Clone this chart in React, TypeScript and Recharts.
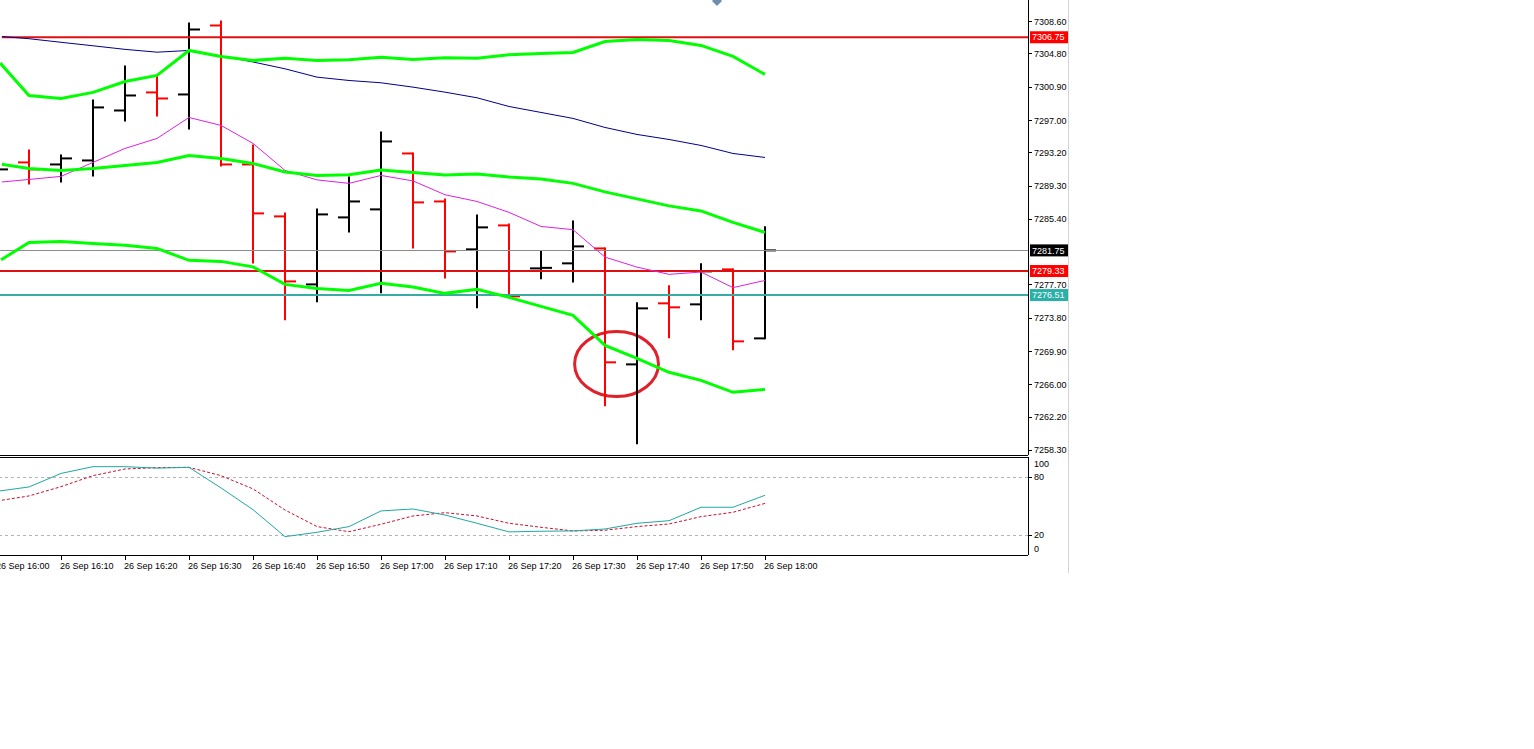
import React from "react";
import {
  ComposedChart,
  Bar,
  Line,
  XAxis,
  YAxis,
  ReferenceLine,
  ReferenceArea,
  ReferenceDot,
} from "recharts";

// 5-minute bars, 26 Sep
const times = [
  "16:00", "16:05", "16:10", "16:15", "16:20", "16:25", "16:30", "16:35", "16:40",
  "16:45", "16:50", "16:55", "17:00", "17:05", "17:10", "17:15", "17:20", "17:25",
  "17:30", "17:35", "17:40", "17:45", "17:50", "17:55", "18:00",
];

const opens = [
  7290.9, 7292.07, 7291.83, 7292.3, 7298.16, 7300.28, 7300.04, 7308.13, 7291.83,
  7285.74, 7277.76, 7285.62, 7286.56, 7293.12, 7287.49, 7281.87, 7284.68, 7279.64,
  7280.23, 7281.98, 7268.38, 7275.54, 7275.42, 7279.52, 7271.43,
];
const highs = [
  7292.3, 7293.47, 7292.89, 7299.34, 7303.32, 7302.15, 7308.37, 7308.6, 7294.06,
  7286.09, 7286.56, 7290.31, 7295.59, 7293.12, 7287.73, 7285.85, 7284.8, 7281.63,
  7285.15, 7281.98, 7275.54, 7277.53, 7280.11, 7279.52, 7284.45,
];
const lows = [
  7290.19, 7289.61, 7289.84, 7290.54, 7296.99, 7297.58, 7296.05, 7291.72, 7280.34,
  7273.66, 7275.77, 7283.98, 7276.83, 7282.1, 7278.58, 7275.07, 7276.24, 7278.47,
  7278.11, 7263.58, 7259.12, 7271.55, 7273.66, 7270.14, 7271.43,
];
const closes = [
  7291.25, 7291.25, 7292.54, 7298.52, 7299.92, 7299.57, 7307.66, 7291.83, 7286.09,
  7278.11, 7285.97, 7287.49, 7294.53, 7287.38, 7281.63, 7284.45, 7276.36, 7279.7,
  7282.22, 7268.62, 7274.95, 7275.07, 7279.29, 7271.08, 7281.75,
];

// Bollinger bands
const bandUpper = [
  7304.14, 7299.92, 7299.57, 7300.28, 7301.56, 7302.27, 7305.2, 7304.5, 7304.03,
  7304.3, 7304.03, 7304.11, 7304.41, 7304.14, 7304.34, 7304.3, 7304.7, 7304.85,
  7304.97, 7306.25, 7306.49, 7306.37, 7305.79, 7304.5, 7302.39,
];
const bandMiddle = [
  7291.95, 7291.36, 7291.13, 7291.36, 7291.72, 7292.07, 7292.89, 7292.54, 7291.95,
  7290.95, 7290.54, 7290.63, 7291.19, 7290.9, 7290.6, 7290.72, 7290.37, 7290.13,
  7289.61, 7288.61, 7287.79, 7286.97, 7286.38, 7285.03, 7283.86,
];
const bandLower = [
  7280.34, 7282.69, 7282.8, 7282.57, 7282.34, 7281.98, 7280.58, 7280.46, 7279.82,
  7277.76, 7277.29, 7277.06, 7277.88, 7277.45, 7276.71, 7277.18, 7276.24, 7275.18,
  7274.13, 7270.61, 7269.09, 7267.45, 7266.51, 7265.1, 7265.45,
];

// moving averages
const maSlow = [
  7306.88, 7306.58, 7306.16, 7305.75, 7305.33, 7305.0, 7305.2, 7304.55, 7303.85,
  7303.05, 7302.07, 7301.68, 7301.41, 7300.9, 7300.31, 7299.65, 7298.63, 7297.93,
  7297.23, 7296.17, 7295.35, 7294.76, 7294.06, 7293.12, 7292.65,
];
const maFast = [
  7289.72, 7290.07, 7290.43, 7292.07, 7293.71, 7294.88, 7297.34, 7296.41, 7294.3,
  7291.13, 7290.02, 7289.61, 7290.54, 7289.9, 7288.28, 7287.49, 7286.21, 7284.56,
  7284.18, 7280.96, 7279.79, 7278.94, 7279.21, 7277.38, 7278.23,
];

// stochastic
const stochK = [
  65.5, 70, 84, 91, 91, 89.5, 90.3, 69, 46.5, 18.6, 23.1, 29, 45.2, 47.2, 41, 32.4,
  23.5, 24.2, 24.5, 26.5, 32.4, 35.1, 49, 49, 61.4,
];
const stochD = [
  55.5, 60.7, 70.3, 81.7, 88.6, 90, 90.3, 81.7, 68, 46.2, 29, 23.7, 31.4, 40, 43.4,
  40, 32.4, 28.3, 24.5, 25.2, 29, 31.7, 39.3, 43.8, 53,
];

const priceTicks = [
  7308.6, 7304.8, 7300.9, 7297.0, 7293.2, 7289.3, 7285.4, 7277.7, 7273.8, 7269.9,
  7266.0, 7262.2, 7258.3,
];
const stochTicks = [0, 20, 80, 100];
const stochLevels = [20, 80];
const timeTicks = [0, 2, 4, 6, 8, 10, 12, 14, 16, 18, 20, 22, 24];
const datePrefix = "26 Sep ";

const resistance = 7306.75;
const lastPrice = 7281.75;
const pivot = 7279.33;
const support = 7276.51;

const FONT = "'Liberation Sans', Arial, sans-serif";
const X_DOMAIN: [number, number] = [-1.15625, 32.21875];
const PRICE_DOMAIN: [number, number] = [7257.75, 7311.12];
const STOCH_DOMAIN: [number, number] = [-0.4, 101];
const AXIS = { stroke: "#000", strokeWidth: 1, shapeRendering: "crispEdges" };

const rows = times.map((t, i) => ({
  idx: i,
  time: t,
  range: [lows[i], highs[i]],
  open: opens[i],
  high: highs[i],
  low: lows[i],
  close: closes[i],
  upper: bandUpper[i],
  middle: bandMiddle[i],
  lower: bandLower[i],
  slow: maSlow[i],
  fast: maFast[i],
  k: stochK[i],
  d: stochD[i],
}));

function OhlcBar(props: any) {
  const { x, y, width, height, payload } = props;
  if (height == null || !payload) return null;
  const cx = Math.round(x + width / 2);
  const { high, low, open, close } = payload;
  const k = height / (high - low);
  const yo = y + (high - open) * k;
  const yc = y + (high - close) * k;
  const color = close >= open ? "#000000" : "#ff0000";
  return (
    <g stroke={color} strokeWidth={2}>
      <line x1={cx} x2={cx} y1={y - 1} y2={y + height + 1} />
      <line x1={cx - 11} x2={cx} y1={yo} y2={yo} />
      <line x1={cx} x2={cx + 11} y1={yc} y2={yc} />
    </g>
  );
}

function PriceTick(props: any) {
  const { x, y, payload } = props;
  return (
    <text x={x} y={y} dy="0.35em" fontSize={9} fontFamily={FONT} fill="#000" textAnchor="start">
      {Number(payload.value).toFixed(2)}
    </text>
  );
}

function StochTick(props: any) {
  const { x, y, payload } = props;
  const v = payload.value;
  let ty = y;
  if (v === 100) ty = y + 6;
  if (v === 0) ty = y - 6;
  return (
    <g>
      {v !== 0 && v !== 100 && (
        <line
          x1={x - 6}
          x2={x - 2}
          y1={y}
          y2={y}
          stroke="#000"
          strokeWidth={1}
          shapeRendering="crispEdges"
        />
      )}
      <text x={x} y={ty} dy="0.35em" fontSize={9} fontFamily={FONT} fill="#000" textAnchor="start">
        {v}
      </text>
    </g>
  );
}

function TimeTick(props: any) {
  const { x, y, payload } = props;
  return (
    <text x={x - 1} y={y} dy="0.75em" fontSize={9} fontFamily={FONT} fill="#000" textAnchor="start">
      {datePrefix + times[payload.value]}
    </text>
  );
}

function priceTag(bg: string, value: number) {
  return (props: any) => {
    const vb = props.viewBox;
    if (!vb) return null;
    const left = vb.x + vb.width + 2;
    return (
      <g>
        <rect x={left} y={vb.y - 6} width={38} height={12} fill={bg} />
        <text
          x={left + 2}
          y={vb.y}
          dy="0.35em"
          fontSize={9}
          fontFamily={FONT}
          fill="#ffffff"
          textAnchor="start"
        >
          {value.toFixed(2)}
        </text>
      </g>
    );
  };
}

function Ellipse(props: any) {
  const { x, y, width, height } = props;
  return (
    <ellipse
      cx={x + width / 2}
      cy={y + height / 2}
      rx={width / 2}
      ry={height / 2}
      fill="none"
      stroke="#e0202a"
      strokeWidth={3}
    />
  );
}

function Diamond(props: any) {
  const { cx, cy } = props;
  return (
    <polygon
      points={`${cx},${cy - 5} ${cx + 5},${cy} ${cx},${cy + 5} ${cx - 5},${cy}`}
      fill="#6f8db0"
    />
  );
}

export default function App() {
  return (
    <div
      style={{
        position: "absolute",
        left: 0,
        top: 0,
        width: 1534,
        height: 749,
        overflow: "hidden",
        background: "#ffffff",
      }}
    >
      {/* price window */}
      <div style={{ position: "absolute", left: -40, top: 0 }}>
        <ComposedChart
          width={1108}
          height={456}
          data={rows}
          margin={{ top: 0, right: 0, bottom: 0, left: 0 }}
        >
          <XAxis
            dataKey="idx"
            type="number"
            domain={X_DOMAIN}
            allowDataOverflow
            height={1}
            tick={false}
            tickLine={false}
            axisLine={AXIS}
          />
          <YAxis
            orientation="right"
            width={40}
            domain={PRICE_DOMAIN}
            allowDataOverflow
            ticks={priceTicks}
            interval={0}
            tickSize={4}
            tickMargin={2}
            tick={<PriceTick />}
            tickLine={{ stroke: "#000", shapeRendering: "crispEdges" }}
            axisLine={AXIS}
          />
          <ReferenceLine
            y={lastPrice}
            stroke="#8c8c8c"
            strokeWidth={1}
            shapeRendering="crispEdges"
            label={priceTag("#000000", lastPrice)}
          />
          <ReferenceLine
            y={resistance}
            stroke="#e01010"
            strokeWidth={2}
            label={priceTag("#ff0000", resistance)}
          />
          <ReferenceLine
            y={pivot}
            stroke="#e01010"
            strokeWidth={2}
            label={priceTag("#ff0000", pivot)}
          />
          <ReferenceLine
            y={support}
            stroke="#3aaaa4"
            strokeWidth={2}
            label={priceTag("#2bb0a8", support)}
          />
          <Line dataKey="slow" stroke="#00008b" strokeWidth={1} dot={false} isAnimationActive={false} />
          <Line dataKey="fast" stroke="#e020e0" strokeWidth={1} dot={false} isAnimationActive={false} />
          <Line dataKey="upper" stroke="#00ff00" strokeWidth={3} dot={false} isAnimationActive={false} />
          <Line dataKey="middle" stroke="#00ff00" strokeWidth={3} dot={false} isAnimationActive={false} />
          <Line dataKey="lower" stroke="#00ff00" strokeWidth={3} dot={false} isAnimationActive={false} />
          <Bar dataKey="range" barSize={12} shape={<OhlcBar />} isAnimationActive={false} />
          <ReferenceArea
            x1={18.05}
            x2={20.67}
            y1={7264.61}
            y2={7272.24}
            shape={<Ellipse />}
          />
          <ReferenceDot x={22.5} y={7311.0} r={5} ifOverflow="visible" shape={<Diamond />} />
        </ComposedChart>
      </div>

      {/* stochastic window */}
      <div style={{ position: "absolute", left: -40, top: 456 }}>
        <ComposedChart
          width={1108}
          height={120}
          data={rows}
          margin={{ top: 0, right: 0, bottom: 0, left: 0 }}
        >
          <XAxis
            xAxisId="top"
            orientation="top"
            dataKey="idx"
            type="number"
            domain={X_DOMAIN}
            allowDataOverflow
            height={1}
            tick={false}
            tickLine={false}
            axisLine={AXIS}
          />
          <XAxis
            dataKey="idx"
            type="number"
            domain={X_DOMAIN}
            allowDataOverflow
            ticks={timeTicks}
            interval={0}
            height={21}
            tickSize={5}
            tickMargin={2}
            tick={<TimeTick />}
            tickLine={{ stroke: "#000", shapeRendering: "crispEdges" }}
            axisLine={AXIS}
          />
          <YAxis
            orientation="right"
            width={40}
            domain={STOCH_DOMAIN}
            allowDataOverflow
            ticks={stochTicks}
            interval={0}
            tickSize={4}
            tickMargin={2}
            tick={<StochTick />}
            tickLine={false}
            axisLine={AXIS}
          />
          {stochLevels.map((v) => (
            <ReferenceLine
              key={v}
              y={v}
              stroke="#b4b4b4"
              strokeDasharray="3 3"
              strokeWidth={1}
              shapeRendering="crispEdges"
            />
          ))}
          <Line dataKey="d" stroke="#c8102e" strokeWidth={1} strokeDasharray="3 2" dot={false} isAnimationActive={false} />
          <Line dataKey="k" stroke="#20a8a0" strokeWidth={1} dot={false} isAnimationActive={false} />
        </ComposedChart>
      </div>

      {/* right edge of the terminal window */}
      <div
        style={{
          position: "absolute",
          left: 1068,
          top: 0,
          width: 1,
          height: 573,
          background: "#d4d4d4",
        }}
      />
    </div>
  );
}
